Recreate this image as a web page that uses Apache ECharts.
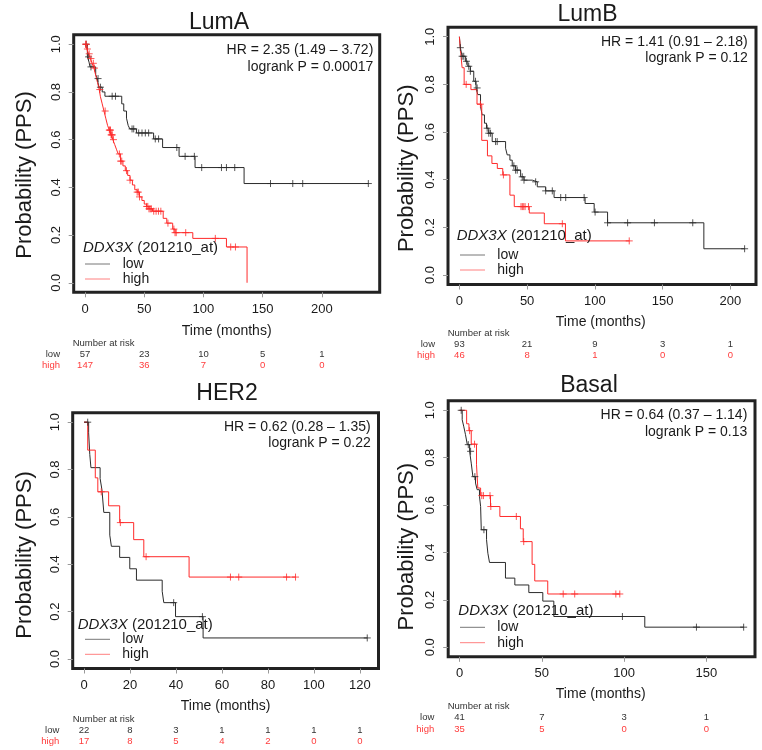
<!DOCTYPE html>
<html>
<head>
<meta charset="utf-8">
<title>DDX3X (201210_at) PPS</title>
<script src="https://cdn.jsdelivr.net/npm/echarts@6/dist/echarts.min.js"></script>
<style>
html, body { margin: 0; padding: 0; background: #fff; }
#chart { width: 762px; height: 750px; }
</style>
</head>
<body>
<div id="chart"></div>
<script>
// ================= data =================
const yTicks = [0, 0.2, 0.4, 0.6, 0.8, 1.0];

// ----- LumA -----
const lumATicks = [0, 50, 100, 150, 200];
const lumARiskLow = [57, 23, 10, 5, 1];
const lumARiskHigh = [147, 36, 7, 0, 0];
const lumALowTime = [0, 2, 3.4, 4.2, 9, 10.3, 11.7, 14.5, 16.8, 31, 32.7, 35, 36.4, 37.8, 43.4, 57.9, 65.5, 79.4, 92.9, 134.3];
const lumALowSurv = [1, 0.947, 0.925, 0.905, 0.873, 0.856, 0.82, 0.80, 0.782, 0.75, 0.72, 0.69, 0.66, 0.645, 0.628, 0.603, 0.567, 0.53, 0.483, 0.416];
const lumALowCens = [1, 3, 5, 11, 13, 22.9, 25.7, 39.7, 41.1, 45.3, 48.1, 50.9, 53.7, 59.3, 62.1, 77.5, 84.5, 92.3, 98.5, 115.2, 119.4, 126.4, 156.6, 175.4, 183.8, 239.2];
const lumAHighTime = [0, 1.5, 3, 4.5, 6, 7.5, 9, 10.5, 12, 13, 14.5, 16, 17.5, 19, 20.5, 22, 23.5, 25, 26.5, 28, 30, 32, 34, 36, 38, 40, 42, 44, 46, 48, 50, 52, 54, 57, 66, 69, 74, 76, 91, 119.4, 136.8];
const lumAHighSurv = [1, 0.98, 0.96, 0.94, 0.92, 0.90, 0.87, 0.84, 0.81, 0.78, 0.75, 0.72, 0.69, 0.66, 0.64, 0.62, 0.60, 0.58, 0.56, 0.54, 0.51, 0.49, 0.47, 0.45, 0.43, 0.41, 0.39, 0.38, 0.36, 0.345, 0.33, 0.32, 0.31, 0.30, 0.27, 0.25, 0.225, 0.21, 0.186, 0.15, 0];
const lumAHighCens = [0.5, 1, 2, 3.5, 5, 7, 8, 12.5, 17, 20.5, 21, 21.5, 22, 22.5, 23, 24, 29, 30, 31, 35, 38, 44, 45, 46, 52, 53, 54, 55, 56, 58, 60, 62, 64, 70, 75, 76, 77, 85, 110, 123, 127];

// ----- LumB -----
const lumBTicks = [0, 50, 100, 150, 200];
const lumBRiskLow = [93, 21, 9, 3, 1];
const lumBRiskHigh = [46, 8, 1, 0, 0];
const lumBLowTime = [0, 0.7, 2, 4.4, 6.2, 8.1, 10.6, 12.3, 13.6, 15.6, 16.8, 18.5, 20, 21.7, 24.2, 34.1, 35.3, 37.3, 39, 41.5, 45.2, 47.7, 53.8, 57.5, 63.7, 69.9, 92.8, 99.5, 109.4, 180.5];
const lumBLowSurv = [1, 0.954, 0.918, 0.897, 0.876, 0.855, 0.813, 0.785, 0.757, 0.707, 0.672, 0.637, 0.616, 0.595, 0.56, 0.532, 0.504, 0.482, 0.458, 0.44, 0.412, 0.398, 0.391, 0.37, 0.353, 0.325, 0.30, 0.264, 0.219, 0.11];
const lumBLowCens = [0.7, 2, 3.2, 5.2, 6.9, 8.1, 11.9, 13.1, 20.5, 21.7, 23, 26.7, 27.9, 40.2, 41.5, 42.7, 46.4, 47.7, 56.3, 63.7, 68.6, 74.8, 78.5, 92.1, 100.2, 109.4, 124.2, 144, 172.3, 210.6];
const lumBHighTime = [0, 1, 2, 3.5, 8.5, 13, 16.5, 20.7, 24, 28, 32, 37.3, 40.5, 51.6, 62.7, 78.3];
const lumBHighSurv = [1, 0.93, 0.87, 0.80, 0.778, 0.717, 0.565, 0.50, 0.468, 0.447, 0.42, 0.335, 0.287, 0.26, 0.215, 0.143];
const lumBHighCens = [5, 15.5, 32.5, 45.5, 46.5, 47.5, 48.5, 51, 76, 125.4];

// ----- HER2 -----
const her2Ticks = [0, 20, 40, 60, 80, 100, 120];
const her2RiskLow = [22, 8, 3, 1, 1, 1, 1];
const her2RiskHigh = [17, 8, 5, 4, 2, 0, 0];
const her2LowTime = [0, 2, 2.5, 3, 7, 7.8, 8.6, 11.2, 11.9, 15.5, 19.9, 22.8, 34, 34.7, 39.8, 51.8];
const her2LowSurv = [1, 0.955, 0.864, 0.808, 0.762, 0.714, 0.619, 0.523, 0.476, 0.429, 0.381, 0.333, 0.286, 0.238, 0.179, 0.089];
const her2LowCens = [1.6, 39, 51.5, 123.2];
const her2HighTime = [0, 1.6, 4.9, 6, 10.7, 15.5, 21.6, 26, 45.7];
const her2HighSurv = [1, 0.882, 0.765, 0.706, 0.647, 0.576, 0.504, 0.432, 0.346];
const her2HighCens = [7.5, 15.8, 27, 63.7, 67.3, 88.1, 92];

// ----- Basal -----
const basalTicks = [0, 50, 100, 150];
const basalRiskLow = [41, 7, 3, 1];
const basalRiskHigh = [35, 5, 0, 0];
const basalLowTime = [0, 1.6, 2.6, 3.6, 4.7, 6.1, 7.1, 8.1, 9.7, 10.7, 12.1, 12.8, 13.2, 16.4, 17.2, 18.2, 27.9, 33.6, 42.1, 50.6, 57.3, 112.6];
const basalLowSurv = [1, 0.96, 0.93, 0.897, 0.855, 0.827, 0.777, 0.72, 0.693, 0.665, 0.637, 0.594, 0.496, 0.454, 0.397, 0.358, 0.292, 0.263, 0.231, 0.195, 0.13, 0.085];
const basalLowCens = [1, 5.3, 6.7, 9.3, 14.8, 99, 144, 172.7];
const basalHighTime = [0, 4.3, 5.7, 7.1, 10.3, 11.1, 12.8, 18.8, 24.5, 37, 38.7, 44.1, 45.7, 53.6];
const basalHighSurv = [1, 0.943, 0.914, 0.857, 0.77, 0.672, 0.64, 0.594, 0.552, 0.50, 0.446, 0.35, 0.28, 0.225];
const basalHighCens = [6.1, 9.1, 13.5, 14.5, 18.5, 19, 34.5, 39, 63, 70, 95, 97.4];

// ================= layout =================
const FONT = '"Liberation Sans", Arial, Helvetica, sans-serif';
const LOW_COL = '#2b2b2b';
const HIGH_COL = '#ff2a2a';

const panels = [
  {
    title: 'LumA', hr: 'HR = 2.35 (1.49 \u2013 3.72)', p: 'logrank P = 0.00017',
    ticks: lumATicks, riskLow: lumARiskLow, riskHigh: lumARiskHigh,
    low: [lumALowTime, lumALowSurv, lumALowCens], high: [lumAHighTime, lumAHighSurv, lumAHighCens],
    xMin: -9.57, xMax: 248.8,
    box: [73.7, 34.7, 379.7, 292.3], titlePos: [219, 22.5], hrPos: [373.3, 50, 66.7],
    legPos: [83, 248.3], legLine: [85, 110], legText: 122.7, legY: [264, 279],
    yName: [25, 175], xName: [226.7, 331], risk: [72.7, 343.3, 60]
  },
  {
    title: 'LumB', hr: 'HR = 1.41 (0.91 \u2013 2.18)', p: 'logrank P = 0.12',
    ticks: lumBTicks, riskLow: lumBRiskLow, riskHigh: lumBRiskHigh,
    low: [lumBLowTime, lumBLowSurv, lumBLowCens], high: [lumBHighTime, lumBHighSurv, lumBHighCens],
    xMin: -8.42, xMax: 219.0,
    box: [448, 27.2, 756, 284.5], titlePos: [587.5, 15], hrPos: [747.7, 42.3, 58.3],
    legPos: [456.7, 236], legLine: [460, 485], legText: 497.3, legY: [255, 270],
    yName: [406.7, 168.3], xName: [600.7, 321.7], risk: [447.7, 333.3, 435]
  },
  {
    title: 'HER2', hr: 'HR = 0.62 (0.28 \u2013 1.35)', p: 'logrank P = 0.22',
    ticks: her2Ticks, riskLow: her2RiskLow, riskHigh: her2RiskHigh,
    low: [her2LowTime, her2LowSurv, her2LowCens], high: [her2HighTime, her2HighSurv, her2HighCens],
    xMin: -4.93, xMax: 128.1,
    box: [72.7, 412.7, 378.5, 668.5], titlePos: [227, 394], hrPos: [370.7, 426.7, 442.7],
    legPos: [77.7, 625], legLine: [85, 110], legText: 122.3, legY: [639.3, 654.3],
    yName: [25, 555], xName: [225.6, 706], risk: [72.7, 719, 59.3]
  },
  {
    title: 'Basal', hr: 'HR = 0.64 (0.37 \u2013 1.14)', p: 'logrank P = 0.13',
    ticks: basalTicks, riskLow: basalRiskLow, riskHigh: basalRiskHigh,
    low: [basalLowTime, basalLowSurv, basalLowCens], high: [basalHighTime, basalHighSurv, basalHighCens],
    xMin: -6.91, xMax: 179.6,
    box: [448.2, 400.8, 755, 656.8], titlePos: [589, 386], hrPos: [747.3, 415, 431.7],
    legPos: [458.3, 610.7], legLine: [460, 485], legText: 497.3, legY: [627.3, 642.7],
    yName: [406.7, 546.7], xName: [600.7, 694], risk: [447.7, 706.7, 434.3]
  }
];

// step value of a KM curve at time t
function survAt(times, surv, t) {
  let s = surv[0];
  for (let i = 0; i < times.length; i++) {
    if (times[i] <= t) s = surv[i];
  }
  return s;
}

function kmLine(times, surv, cens) {
  const pts = times.map((t, i) => [t, surv[i]]);
  const end = Math.max.apply(null, cens);
  if (end > times[times.length - 1]) pts.push([end, surv[surv.length - 1]]);
  return pts;
}

function censPoints(times, surv, cens) {
  return cens.map(t => [t, survAt(times, surv, t)]);
}

const PLUS = 'path://M5,0L5,10M0,5L10,5';

const grid = [], xAxis = [], yAxis = [], series = [], graphic = [];

function txt(x, y, text, size, color, align, extra) {
  return Object.assign({
    type: 'text', x: x, y: y, silent: true,
    style: {
      text: text, fontSize: size, fontFamily: FONT, fill: color,
      textAlign: align || 'center', textVerticalAlign: 'middle'
    }
  }, extra || {});
}

panels.forEach((pn, g) => {
  const [x1, y1, x2, y2] = pn.box;
  grid.push({
    left: x1, top: y1, width: x2 - x1, height: y2 - y1,
    show: true, borderColor: '#222', borderWidth: 3, backgroundColor: 'transparent'
  });

  // main time axis
  xAxis.push({
    gridIndex: g, type: 'value', min: pn.xMin, max: pn.xMax, position: 'bottom',
    axisLine: { show: false, onZero: false },
    splitLine: { show: false },
    axisTick: { show: true, customValues: pn.ticks, length: 5, lineStyle: { color: '#999', width: 1 } },
    axisLabel: { customValues: pn.ticks, margin: 10.5, fontSize: 13, fontFamily: FONT, color: '#1a1a1a' }
  });
  // number at risk rows, placed on the same scale
  const lowOff = (pn.risk[1] + 11) - y2 - 5;
  const highOff = (pn.risk[1] + 22.4) - y2 - 5;
  [[pn.riskLow, lowOff, '#333'], [pn.riskHigh, highOff, '#ff3b3b']].forEach(([vals, off, col]) => {
    xAxis.push({
      gridIndex: g, type: 'value', min: pn.xMin, max: pn.xMax, position: 'bottom', offset: off,
      axisLine: { show: false, onZero: false }, axisTick: { show: false }, splitLine: { show: false },
      axisLabel: {
        customValues: pn.ticks, margin: 0, fontSize: 9.5, fontFamily: FONT, color: col,
        formatter: v => String(vals[pn.ticks.indexOf(v)])
      }
    });
  });

  yAxis.push({
    gridIndex: g, type: 'value', min: -0.04, max: 1.04, position: 'left',
    axisLine: { show: false, onZero: false },
    splitLine: { show: false },
    axisTick: { show: true, customValues: yTicks, length: 5, lineStyle: { color: '#999', width: 1 } },
    axisLabel: {
      customValues: yTicks, rotate: 90, margin: 11, fontSize: 13, fontFamily: FONT, color: '#1a1a1a',
      formatter: v => v.toFixed(1)
    }
  });

  const xi = g * 3;
  [[pn.low, LOW_COL], [pn.high, HIGH_COL]].forEach(([d, col]) => {
    series.push({
      type: 'line', xAxisIndex: xi, yAxisIndex: g, step: 'end', showSymbol: false,
      data: kmLine(d[0], d[1], d[2]), lineStyle: { color: col, width: 1 },
      silent: true, animation: false, z: 3
    });
    series.push({
      type: 'scatter', xAxisIndex: xi, yAxisIndex: g, symbol: PLUS, symbolSize: 7,
      data: censPoints(d[0], d[1], d[2]),
      itemStyle: { color: 'none', borderColor: col, borderWidth: 1 },
      silent: true, animation: false, z: 4
    });
  });

  // texts
  graphic.push(txt(pn.titlePos[0], pn.titlePos[1], pn.title, 23, '#1a1a1a'));
  graphic.push(txt(pn.hrPos[0], pn.hrPos[1], pn.hr, 14, '#1a1a1a', 'right'));
  graphic.push(txt(pn.hrPos[0], pn.hrPos[2], pn.p, 14, '#1a1a1a', 'right'));
  graphic.push(txt(pn.xName[0], pn.xName[1], 'Time (months)', 14, '#1a1a1a'));
  graphic.push(txt(pn.yName[0], pn.yName[1], 'Probability (PPS)', 22, '#1a1a1a', 'center', { rotation: Math.PI / 2 }));

  // legend
  graphic.push({
    type: 'text', x: pn.legPos[0], y: pn.legPos[1], silent: true, z: 10,
    style: {
      text: '{i|DDX3X} (201210_at)', fontSize: 15, fontFamily: FONT, fill: '#1a1a1a',
      textAlign: 'left', textVerticalAlign: 'middle',
      rich: { i: { fontStyle: 'italic', fontSize: 15, fontFamily: FONT, fill: '#1a1a1a' } }
    }
  });
  [['low', '#777', pn.legY[0]], ['high', '#ff8080', pn.legY[1]]].forEach(([lab, col, y]) => {
    graphic.push({
      type: 'line', silent: true, z: 10,
      shape: { x1: pn.legLine[0], y1: y, x2: pn.legLine[1], y2: y },
      style: { stroke: col, lineWidth: 1 }
    });
    graphic.push(txt(pn.legText, y, lab, 14, '#1a1a1a', 'left', { z: 10 }));
  });

  // number at risk labels
  graphic.push(txt(pn.risk[0], pn.risk[1], 'Number at risk', 9.5, '#333', 'left'));
  graphic.push(txt(pn.risk[2], pn.risk[1] + 11, 'low', 9.5, '#333', 'right'));
  graphic.push(txt(pn.risk[2], pn.risk[1] + 22.4, 'high', 9.5, '#ff3b3b', 'right'));
});

const chart = echarts.init(document.getElementById('chart'), null, { renderer: 'canvas' });
chart.setOption({
  backgroundColor: '#fff',
  animation: false,
  grid: grid,
  xAxis: xAxis,
  yAxis: yAxis,
  series: series,
  graphic: graphic
});
</script>
</body>
</html>
